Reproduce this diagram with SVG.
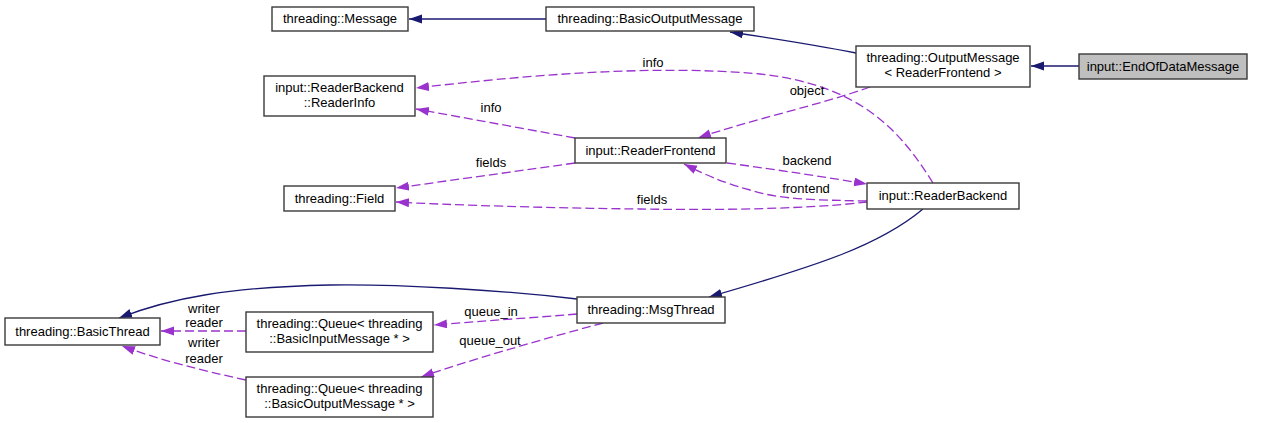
<svg xmlns="http://www.w3.org/2000/svg" width="1261" height="423" viewBox="0 0 1261 423">
<defs>
<style>
.box{fill:#ffffff;stroke:#3a3a3a;stroke-width:1.4}
.cur{fill:#bfbfbf;stroke:#3a3a3a;stroke-width:1.4}
text{font-family:"Liberation Sans",Arial,sans-serif;font-size:13px;fill:#000;text-anchor:middle}
.inh{fill:none;stroke:#191970;stroke-width:1.3}
.use{fill:none;stroke:#9a32cd;stroke-width:1.3;stroke-dasharray:9,4}
</style>
<marker id="an" markerUnits="userSpaceOnUse" markerWidth="14" markerHeight="10" refX="13" refY="4.5" orient="auto"><path d="M0,0 L13,4.5 L0,9 z" fill="#191970"/></marker>
<marker id="ap" markerUnits="userSpaceOnUse" markerWidth="14" markerHeight="10" refX="13" refY="4.5" orient="auto"><path d="M0,0 L13,4.5 L0,9 z" fill="#9a32cd"/></marker>
</defs>
<rect width="1261" height="423" fill="#ffffff"/>
<g id="connectors">
<path class="inh" d="M1079,66 L1031,66" marker-end="url(#an)"/>
<path class="inh" d="M856,53 C820,46 770,38 730,32" marker-end="url(#an)"/>
<path class="inh" d="M546,19 L409,19" marker-end="url(#an)"/>
<path class="use" d="M933,183 C900,130 860,85 760,74 C650,64 520,76 416,88" marker-end="url(#ap)"/>
<text x="653" y="67">info</text>
<path class="use" d="M575,138 L416,109" marker-end="url(#ap)"/>
<text x="491" y="112">info</text>
<path class="use" d="M870,87 C820,105 750,120 698,138" marker-end="url(#ap)"/>
<text x="807" y="95">object</text>
<path class="use" d="M575,163 L396,188" marker-end="url(#ap)"/>
<text x="491" y="167">fields</text>
<path class="use" d="M867,202 C800,210 700,210 640,209 C550,208 450,205 396,202" marker-end="url(#ap)"/>
<text x="652" y="204">fields</text>
<path class="use" d="M727,163 C780,170 830,178 867,184" marker-end="url(#ap)"/>
<text x="807" y="165">backend</text>
<path class="use" d="M867,201 C820,200 780,200 750,190 C720,182 700,172 684,164" marker-end="url(#ap)"/>
<text x="806" y="193">frontend</text>
<path class="inh" d="M923,209 C880,245 820,265 709,297" marker-end="url(#an)"/>
<path class="inh" d="M577,299 C500,290 400,284 330,285 C230,287 170,298 119,318" marker-end="url(#an)"/>
<path class="use" d="M577,314 C530,318 480,321 434,325" marker-end="url(#ap)"/>
<text x="491" y="316">queue_in</text>
<path class="use" d="M603,323 C540,340 470,360 421,377" marker-end="url(#ap)"/>
<text x="490" y="345">queue_out</text>
<path class="use" d="M246,331 L161,331" marker-end="url(#ap)"/>
<text x="204" y="313">writer</text>
<text x="204" y="327">reader</text>
<path class="use" d="M246,380 C200,370 160,360 122,346" marker-end="url(#ap)"/>
<text x="204" y="347">writer</text>
<text x="204" y="363">reader</text>
</g>
<g id="node_message"><rect class="box" x="272" y="7" width="136" height="24"/><text x="340" y="23">threading::Message</text></g>
<g id="node_basicoutputmessage"><rect class="box" x="546" y="7" width="208" height="24"/><text x="650" y="23">threading::BasicOutputMessage</text></g>
<g id="node_outputmessage"><rect class="box" x="856" y="46" width="174" height="41"/><text x="943" y="62">threading::OutputMessage</text><text x="943" y="77">&lt; ReaderFrontend &gt;</text></g>
<g id="node_endofdatamessage"><rect class="cur" x="1079" y="54" width="168" height="25"/><text x="1163" y="71">input::EndOfDataMessage</text></g>
<g id="node_readerinfo"><rect class="box" x="264" y="76" width="151" height="40"/><text x="339.5" y="92">input::ReaderBackend</text><text x="339.5" y="107">::ReaderInfo</text></g>
<g id="node_readerfrontend"><rect class="box" x="575" y="138" width="151" height="25"/><text x="650.5" y="155">input::ReaderFrontend</text></g>
<g id="node_field"><rect class="box" x="284" y="186" width="111" height="25"/><text x="339.5" y="203">threading::Field</text></g>
<g id="node_readerbackend"><rect class="box" x="867" y="183" width="152" height="26"/><text x="943" y="200">input::ReaderBackend</text></g>
<g id="node_msgthread"><rect class="box" x="577" y="297" width="148" height="26"/><text x="651" y="314">threading::MsgThread</text></g>
<g id="node_basicthread"><rect class="box" x="5" y="318" width="155" height="27"/><text x="82.5" y="336">threading::BasicThread</text></g>
<g id="node_queue_in"><rect class="box" x="246" y="312" width="187" height="40"/><text x="339.5" y="328">threading::Queue&lt; threading</text><text x="339.5" y="343">::BasicInputMessage * &gt;</text></g>
<g id="node_queue_out"><rect class="box" x="246" y="377" width="187" height="40"/><text x="339.5" y="393">threading::Queue&lt; threading</text><text x="339.5" y="408">::BasicOutputMessage * &gt;</text></g>
</svg>
